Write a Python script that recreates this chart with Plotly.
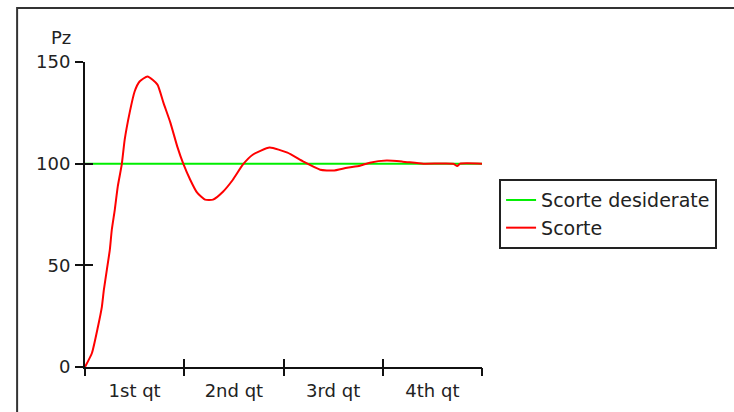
import plotly.graph_objects as go

# ---- data ----
quarter_labels = ["1st qt", "2nd qt", "3rd qt", "4th qt"]
label_pos = [0.5, 1.5, 2.5, 3.5]
quarter_ticks = [0, 1, 2, 3, 4]
y_ticks = [0, 50, 100, 150]

desired_x = [0, 4]
desired_y = [100, 100]

scorte_x = [0.00, 0.07, 0.13, 0.17, 0.19, 0.22, 0.25, 0.27, 0.30, 0.33, 0.37, 0.40,
            0.45, 0.50, 0.55, 0.63, 0.73, 0.79, 0.86, 0.93, 0.99, 1.06, 1.13, 1.21,
            1.29, 1.39, 1.49, 1.59, 1.69, 1.86, 2.04, 2.20, 2.37, 2.50, 2.64, 2.77,
            2.87, 3.04, 3.20, 3.41, 3.71, 3.75, 3.78, 4.00]
scorte_y = [0.0, 6.9, 19.7, 29.6, 37.9, 47.8, 57.6, 67.5, 77.3, 88.7, 99.5, 111.8,
            125.1, 135.5, 140.4, 142.9, 138.9, 130.0, 120.2, 108.4, 100.0, 92.1, 85.7, 82.3,
            82.3, 86.2, 92.1, 99.5, 104.4, 107.9, 105.4, 101.0, 97.0, 96.6, 98.0, 99.0,
            100.5, 101.5, 101.0, 100.0, 100.0, 98.8, 100.0, 100.0]

FONT = "DejaVu Sans"
TXT = "#222222"
FS = 18

fig = go.Figure()
fig.add_trace(go.Scatter(x=desired_x, y=desired_y, mode="lines", name="Scorte desiderate",
                         line=dict(color="#00ee00", width=2)))
fig.add_trace(go.Scatter(x=scorte_x, y=scorte_y, mode="lines", name="Scorte",
                         line=dict(color="#ff0000", width=2, shape="spline", smoothing=0.5)))
# invisible helper traces so the overlay tick axes get drawn
for xa, ya in [("x2", "y"), ("x3", "y"), ("x", "y2")]:
    fig.add_trace(go.Scatter(x=desired_x, y=desired_y, mode="lines", xaxis=xa, yaxis=ya,
                             line=dict(color="rgba(0,0,0,0)", width=0),
                             showlegend=False, hoverinfo="skip"))

common_x = dict(range=[0, 4], showgrid=False, zeroline=False, fixedrange=True, automargin=False)
common_y = dict(range=[0, 150], showgrid=False, zeroline=False, fixedrange=True, automargin=False)

fig.update_layout(
    width=734, height=412,
    margin=dict(l=85, r=252, t=62, b=45),
    paper_bgcolor="white", plot_bgcolor="white",
    font=dict(family=FONT, size=FS, color=TXT),
    showlegend=True,
    legend=dict(x=1.043, y=0.616, xanchor="left", yanchor="top",
                bordercolor="#222222", borderwidth=2, bgcolor="white",
                font=dict(family=FONT, size=19, color=TXT),
                tracegroupgap=0),
    xaxis=dict(**common_x, tickvals=label_pos, ticktext=quarter_labels,
               ticks="outside", ticklen=6, tickcolor="rgba(0,0,0,0)",
               showline=True, linecolor="#111111", linewidth=2),
    xaxis2=dict(**common_x, overlaying="x", anchor="y", tickvals=quarter_ticks,
                ticks="outside", ticklen=8, tickwidth=2, tickcolor="#111111",
                showticklabels=False, showline=False),
    xaxis3=dict(**common_x, overlaying="x", anchor="y", tickvals=quarter_ticks,
                ticks="inside", ticklen=8, tickwidth=2, tickcolor="#111111",
                showticklabels=False, showline=False),
    yaxis=dict(**common_y, tickvals=y_ticks, ticks="outside", ticklen=8, tickwidth=2,
               tickcolor="#111111", showline=True, linecolor="#111111", linewidth=2,
               ticklabelstandoff=1),
    yaxis2=dict(**common_y, overlaying="y", anchor="x", tickvals=y_ticks,
                ticks="inside", ticklen=8, tickwidth=2, tickcolor="#111111",
                showticklabels=False, showline=False),
    annotations=[dict(text="Pz", xref="paper", yref="paper", x=0, y=1,
                      xanchor="right", yanchor="middle", xshift=-12, yshift=25,
                      showarrow=False, font=dict(family=FONT, size=FS, color=TXT))],
    shapes=[dict(type="rect", xref="paper", yref="paper",
                 x0=-0.171, x1=1.8, y0=-0.4, y1=1.177,
                 line=dict(color="#333333", width=2), fillcolor="rgba(0,0,0,0)",
                 layer="below")],
)

fig.write_html("out.html", config={"displayModeBar": False},
               post_script="document.body.style.margin='0';document.body.style.overflow='hidden';")
